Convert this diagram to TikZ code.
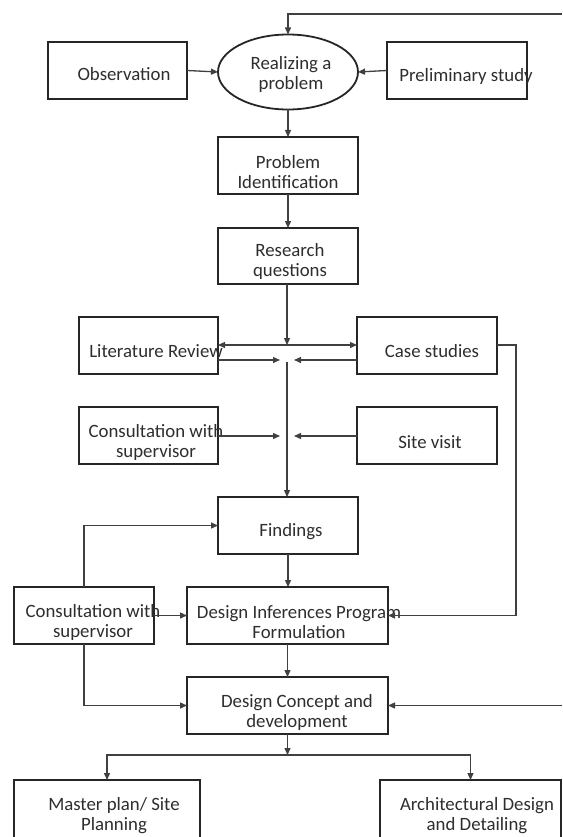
\documentclass[tikz,border=0pt]{standalone}
\usepackage{fontspec}
\setmainfont{Carlito}
\usetikzlibrary{shapes.geometric,arrows.meta}
\begin{document}
\begin{tikzpicture}[x=1pt,y=-1pt,
  box/.style={draw=black!85,line width=1.8pt,inner sep=0pt,outer sep=0pt,minimum width=140pt,minimum height=57pt},
  oval/.style={ellipse,draw=black!85,line width=1.8pt,inner sep=0pt,outer sep=0pt,minimum width=140pt,minimum height=75pt},
  txt/.style={inner sep=0pt,align=center,text=black!82,font=\fontsize{18.8}{20}\selectfont},
  conn/.style={draw=black!75,line width=1.3pt},
  arr/.style={conn,-{Triangle[length=7pt,width=6pt]}}
]
\useasboundingbox (0,0) rectangle (562,837);
\clip (0,0) rectangle (562,837);
\fill[white] (0,0) rectangle (562,837);

% boxes
\node[box,minimum width=139pt] (obs) at (117.5,70.5) {};
\node[box] (pre) at (457,70.5) {};
\node[oval] (ell) at (288,72) {};
\node[box] (pi) at (288,165.5) {};
\node[box,minimum height=56pt] (rq) at (288,256) {};
\node[box,minimum width=139pt] (lit) at (148.5,345.5) {};
\node[box] (case) at (427,345.5) {};
\node[box,minimum width=139pt] (co1) at (148.5,435.5) {};
\node[box] (site) at (427,435.5) {};
\node[box] (fi) at (288,525.5) {};
\node[box] (co2) at (84,615.5) {};
\node[box,minimum width=201pt] (di) at (287.5,615.5) {};
\node[box,minimum width=201pt] (dc) at (287.5,705.5) {};
\node[box,minimum width=186pt,minimum height=80pt] (mp) at (107,820) {};
\node[box,minimum width=181pt,minimum height=80pt] (ar) at (470.5,820) {};

% texts
\node[txt] (tobs) at (124,74) {Observation};
\node[txt] (tpre) at (466,76) {Preliminary study};
\node[txt] (tell) at (291,74.5) {Realizing a\\problem};
\node[txt] (tpi) at (288,172) {Problem\\Identification};
\node[txt] (trq) at (290,261) {Research\\questions};
\node[txt] (tlit) at (156,351) {Literature Review};
\node[txt] (tcase) at (432,351) {Case studies};
\node[txt] (tco1) at (156,442) {Consultation with\\supervisor};
\node[txt] (tsite) at (430,442) {Site visit};
\node[txt] (tfi) at (291,532) {Findings};
\node[txt] (tco2) at (93,622) {Consultation with\\supervisor};
\node[txt] (tdi) at (299,622) {Design Inferences Program\\Formulation};
\node[txt] (tdc) at (297,712) {Design Concept and\\development};
\node[txt] (tmp) at (114,816) {Master plan/ Site\\Planning};
\node[txt] (tar) at (477,816) {Architectural Design\\and Detailing};

% helper coordinates
\coordinate (eT) at (562,14);
\coordinate (eR) at (562,705.5);
\coordinate (r1) at (287,345);
\coordinate (r2) at (287,362);
\coordinate (r2l) at (280,360);
\coordinate (r2r) at (294,360);
\coordinate (r3l) at (280,436);
\coordinate (r3r) at (294,436);
\coordinate (cR) at (516,615.5);
\coordinate (jn) at (287.5,755);

% connectors
\draw[arr] (eT) -| (ell.north);
\draw[arr] (obs.east) -- (ell.west);
\draw[arr] (pre.west) -- (ell.east);
\draw[arr] (ell.south) -- (pi.north);
\draw[arr] (pi.south) -- (rq.north);
\draw[arr] (rq.south -| r1) -- (r1);
\draw[arr] (r1) -- (lit.east |- r1);
\draw[arr] (r1) -- (case.west |- r1);
\draw[arr] (lit.east |- r2l) -- (r2l);
\draw[arr] (case.west |- r2r) -- (r2r);
\draw[arr] (co1.east |- r3l) -- (r3l);
\draw[arr] (site.west |- r3r) -- (r3r);
\draw[arr] (r2) -- (fi.north -| r2);
\draw[arr] (case.east |- r1) -| (cR) -- (di.east);
\draw[arr] (co2.north) |- (fi.west);
\draw[arr] (co2.east) -- (di.west);
\draw[arr] (fi.south) -- (di.north -| fi.south);
\draw[arr] (di.south) -- (dc.north);
\draw[arr] (co2.south) |- (dc.west);
\draw[arr] (eR) -- (dc.east);
\draw[arr] (dc.south) -- (jn);
\draw[arr] (jn) -| (mp.north);
\draw[arr] (jn) -| (ar.north);
\end{tikzpicture}
\end{document}
